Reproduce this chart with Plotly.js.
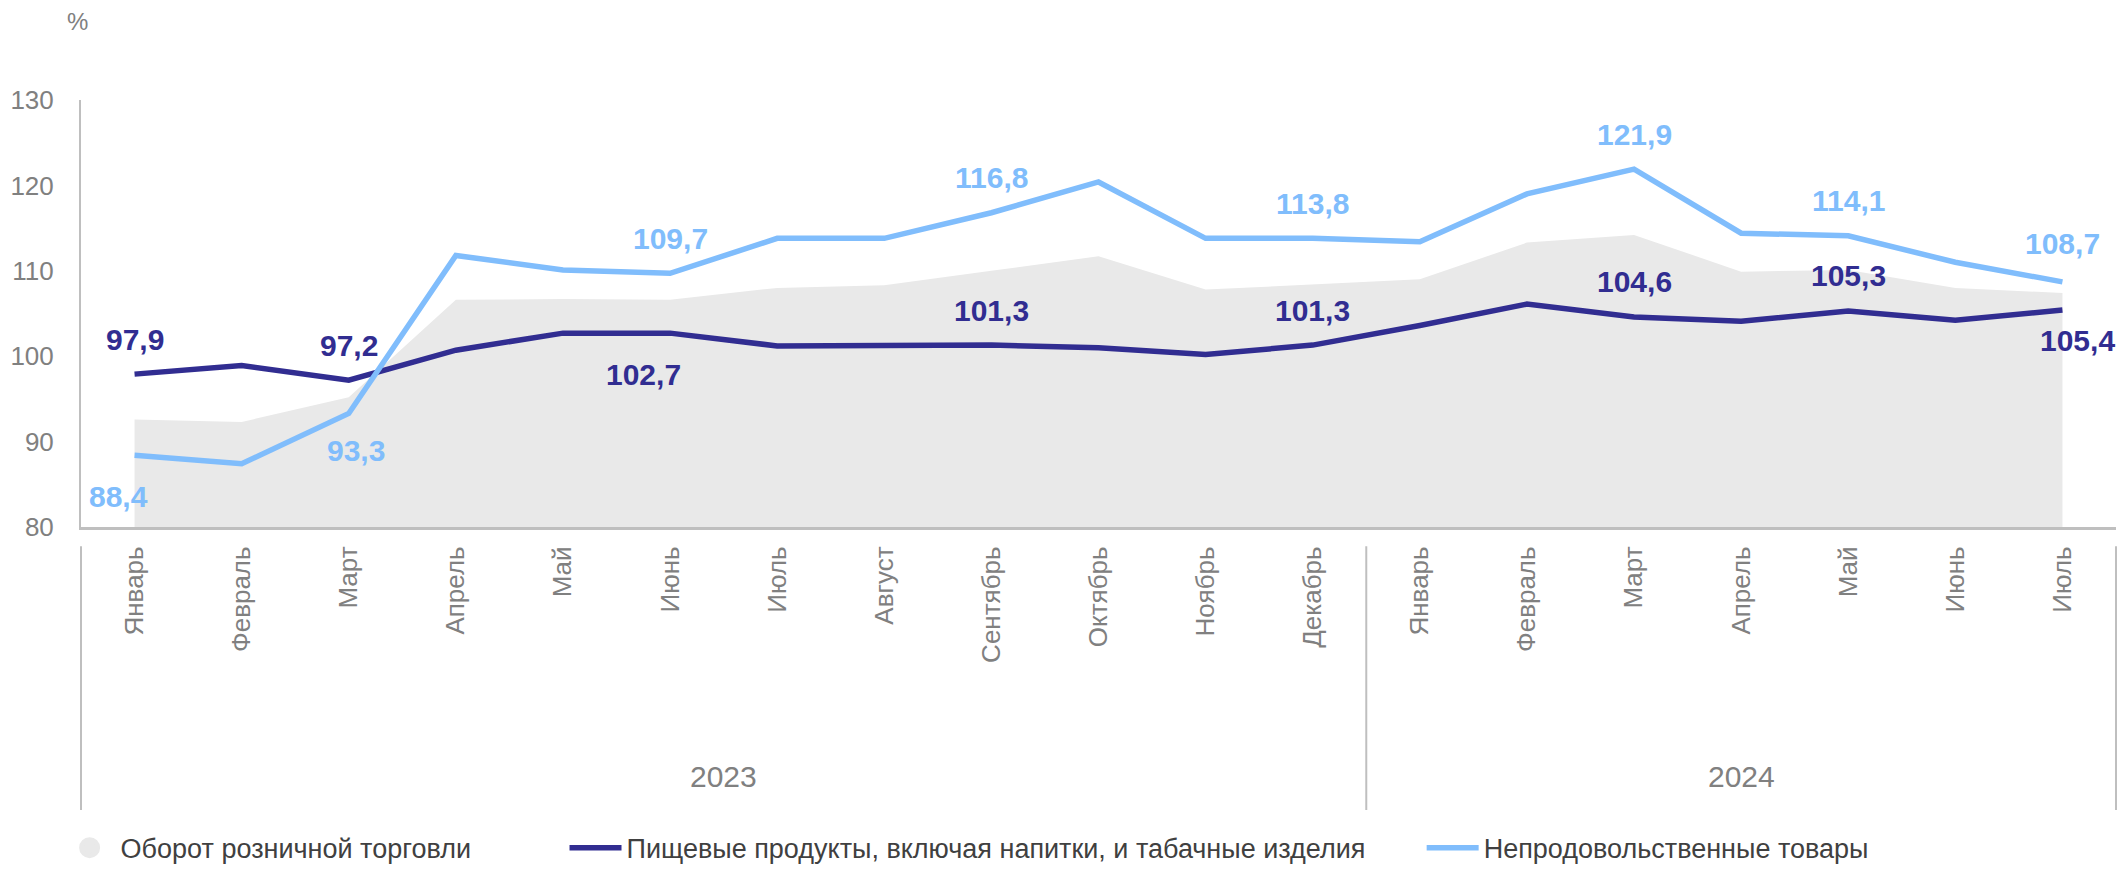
<!DOCTYPE html>
<html>
<head>
<meta charset="utf-8">
<script src="https://cdn.plot.ly/plotly-3.0.1.min.js"></script>
<style>
  body { margin: 0; background: #fff; }
  #chart { width: 2126px; height: 869px; }
</style>
</head>
<body>
<div id="chart"></div>
<script>
// months on the axis, grouped by year
const months = ["Январь", "Февраль", "Март", "Апрель", "Май", "Июнь", "Июль", "Август", "Сентябрь",
  "Октябрь", "Ноябрь", "Декабрь", "Январь", "Февраль", "Март", "Апрель", "Май", "Июнь", "Июль"];
const years = ["2023", "2023", "2023", "2023", "2023", "2023", "2023", "2023", "2023", "2023", "2023", "2023",
  "2024", "2024", "2024", "2024", "2024", "2024", "2024"];

// %, same month of previous year
const retail = [92.6, 92.3, 95.2, 106.6, 106.7, 106.6, 108.0, 108.3, 110.0, 111.7, 107.8, 108.4,
  109.0, 113.3, 114.2, 109.9, 110.1, 108.0, 107.4];
const food = [97.9, 98.9, 97.2, 100.7, 102.7, 102.7, 101.2, 101.2, 101.3, 101.0, 100.2, 101.3,
  103.6, 106.1, 104.6, 104.1, 105.3, 104.2, 105.4];
const nonFood = [88.4, 87.4, 93.3, 111.8, 110.1, 109.7, 113.8, 113.8, 116.8, 120.4, 113.8, 113.8,
  113.4, 119.0, 121.9, 114.4, 114.1, 111.0, 108.7];

// which points get a value label
const foodLabelIdx = [0, 2, 5, 8, 11, 14, 16, 18];
const nonFoodLabelIdx = [0, 2, 5, 8, 11, 14, 16, 18];

const DARK = "#312d91";
const LIGHT = "#80bdfc";
const GREY_FILL = "#e9e9e9";
const AXIS = "#bfbfbf";
const FONT = "Liberation Sans, Arial, sans-serif";

// position along the axis = index of the month
const idx = months.map((m, i) => i);

const traces = [
  {
    x: idx, y: retail, type: "scatter", mode: "lines",
    fill: "tozeroy", fillcolor: GREY_FILL,
    line: { width: 0, color: GREY_FILL },
    showlegend: false, hoverinfo: "skip"
  },
  {
    // legend entry for the grey area (round symbol)
    x: [idx[0]], y: [null], type: "scatter", mode: "markers",
    name: "Оборот розничной торговли",
    marker: { color: GREY_FILL, size: 16, line: { color: GREY_FILL, width: 5 } },
    legend: "legend"
  },
  {
    x: idx, y: food, type: "scatter", mode: "lines",
    name: "Пищевые продукты, включая напитки, и табачные изделия",
    line: { color: DARK, width: 5.5 },
    legend: "legend2"
  },
  {
    x: idx, y: nonFood, type: "scatter", mode: "lines",
    name: "Непродовольственные товары",
    line: { color: LIGHT, width: 5.5 },
    legend: "legend3"
  }
];

const fmt = v => v.toFixed(1).replace(".", ",");

// label offsets in px; default is above the point
const foodShift = { 5: [-27, -41], 18: [15, -30] };
const nonFoodShift = { 0: [-16, -41], 2: [7, -37], 18: [0, 38] };

const annotations = [];
function addLabels(values, idxs, shifts, color) {
  idxs.forEach(i => {
    const s = shifts[i] || [0, 35];
    annotations.push({
      x: idx[i], y: values[i], xref: "x", yref: "y",
      text: fmt(values[i]), showarrow: false,
      xshift: s[0], yshift: s[1],
      xanchor: "center", yanchor: "middle",
      font: { family: FONT, size: 30, weight: 700, color: color }
    });
  });
}
addLabels(food, foodLabelIdx, foodShift, DARK);
addLabels(nonFood, nonFoodLabelIdx, nonFoodShift, LIGHT);

annotations.push({
  text: "%", xref: "paper", yref: "paper", x: -0.0015, y: 1.183,
  showarrow: false, xanchor: "center", yanchor: "middle",
  font: { family: FONT, size: 24, color: "#808080" }
});

// year groups: label in the middle, divider lines at the edges
const shapes = [];
const n = months.length;
const yearNames = [...new Set(years)];
yearNames.forEach((yr, k) => {
  const first = years.indexOf(yr);
  const last = years.lastIndexOf(yr);
  annotations.push({
    text: yr, xref: "x", yref: "paper", x: (first + last) / 2, y: -0.585,
    showarrow: false, xanchor: "center", yanchor: "middle",
    font: { family: FONT, size: 30, color: "#808080" }
  });
  const edges = k === 0 ? [first, last + 1] : [last + 1];
  edges.forEach(b => {
    shapes.push({
      type: "line", xref: "paper", yref: "paper",
      x0: b / n, x1: b / n, y0: -0.045, y1: -0.663,
      line: { color: AXIS, width: 2 }
    });
  });
});

const legendBase = {
  orientation: "h", yanchor: "middle", y: -0.752, xanchor: "left",
  itemwidth: 52,
  font: { family: FONT, size: 27, color: "#404040" },
  bgcolor: "rgba(0,0,0,0)"
};

const layout = {
  width: 2126, height: 869,
  margin: { l: 81, r: 10, t: 100, b: 342, autoexpand: false },
  paper_bgcolor: "#fff", plot_bgcolor: "#fff",
  font: { family: FONT, color: "#808080" },
  showlegend: true,
  xaxis: {
    range: [-0.5, n - 0.5], autorange: false,
    tickmode: "array", tickvals: idx, ticktext: months,
    showline: true, linecolor: AXIS, linewidth: 3,
    showgrid: false, zeroline: false, ticks: "",
    tickangle: -90, ticklabelstandoff: 6,
    tickfont: { family: FONT, size: 26, color: "#808080" }
  },
  yaxis: {
    range: [80, 130], dtick: 10, autorange: false,
    showline: true, linecolor: AXIS, linewidth: 2,
    showgrid: false, zeroline: false, ticks: "",
    ticklabelstandoff: 20,
    tickfont: { family: FONT, size: 26, color: "#808080" }
  },
  legend: Object.assign({}, legendBase, { x: -0.011 }),
  legend2: Object.assign({}, legendBase, { x: 0.2376 }),
  legend3: Object.assign({}, legendBase, { x: 0.6588 }),
  annotations: annotations,
  shapes: shapes
};

Plotly.newPlot("chart", traces, layout, { displayModeBar: false, staticPlot: true });
</script>
</body>
</html>
